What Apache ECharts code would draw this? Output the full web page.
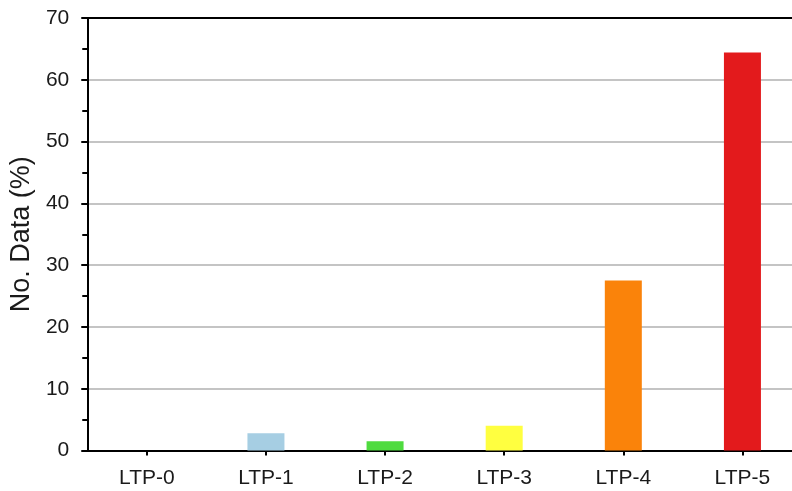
<!DOCTYPE html>
<html>
<head>
<meta charset="utf-8">
<script src="https://cdn.jsdelivr.net/npm/echarts@6/dist/echarts.min.js"></script>
<style>html,body{margin:0;padding:0;background:#fff;overflow:hidden;width:792px;height:491px;}#c{width:802px;height:491px;}</style>
</head>
<body>
<div id="c"></div>
<script>
const categories = ['LTP-0', 'LTP-1', 'LTP-2', 'LTP-3', 'LTP-4', 'LTP-5'];
const values = [0, 2.8, 1.5, 4.0, 27.5, 64.4];
const barColors = ['#a6cee3', '#a6cee3', '#4fdb3f', '#ffff40', '#fa830a', '#e31a1c'];
const yTicks = [0, 10, 20, 30, 40, 50, 60, 70];

const chart = echarts.init(document.getElementById('c'), null, {renderer: 'canvas'});
const font = 'Liberation Sans, Arial, sans-serif';
chart.setOption({
  animation: false,
  backgroundColor: '#fff',
  grid: {left: 86, top: 18, bottom: 40.5, right: 0, containLabel: false},
  xAxis: [{
    type: 'category',
    data: categories,
    axisLine: {show: true, lineStyle: {color: '#000', width: 2}},
    axisTick: {show: true, alignWithLabel: true, length: 5, lineStyle: {color: '#000', width: 2}},
    axisLabel: {color: '#1a1a1a', fontSize: 21, fontFamily: font, margin: 17},
    splitLine: {show: false}
  }, {
    type: 'category',
    position: 'top',
    data: categories,
    axisLine: {show: true, lineStyle: {color: '#000', width: 2}},
    axisTick: {show: false},
    axisLabel: {show: false},
    splitLine: {show: false}
  }],
  yAxis: {
    type: 'value',
    min: yTicks[0],
    max: yTicks[yTicks.length - 1],
    interval: 10,
    name: 'No. Data (%)',
    nameLocation: 'middle',
    nameGap: 46,
    nameTextStyle: {color: '#1a1a1a', fontSize: 27, fontFamily: font},
    axisLine: {show: true, lineStyle: {color: '#000', width: 2}},
    axisTick: {show: true, length: 6, lineStyle: {color: '#000', width: 2}},
    minorTick: {show: true, splitNumber: 2, length: 5, lineStyle: {color: '#000', width: 2}},
    axisLabel: {color: '#1a1a1a', fontSize: 21, fontFamily: font, margin: 18},
    splitLine: {show: true, lineStyle: {color: '#c4c4c4', width: 2}}
  },
  series: [{
    type: 'bar',
    xAxisIndex: 0,
    barWidth: 37,
    data: values.map((v, i) => ({value: v, itemStyle: {color: barColors[i]}}))
  }]
});
</script>
</body>
</html>
